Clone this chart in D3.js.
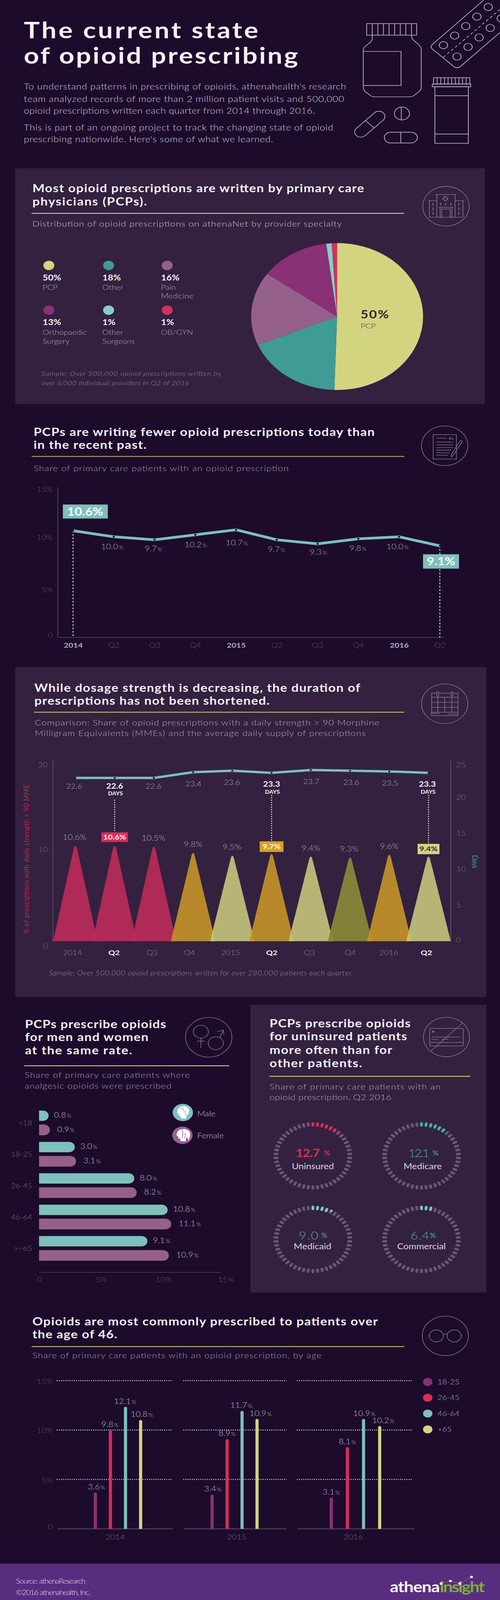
<!DOCTYPE html>
<html><head><meta charset="utf-8">
<script src="https://cdn.jsdelivr.net/npm/d3@7"></script>
<style>html,body{margin:0;padding:0;background:#1d0b2c;overflow:hidden}svg{display:block}text{font-family:Lato,sans-serif}</style>
</head><body><script>
// ---------- DATA ----------
const pieCategories=["PCP","Other","Pain Medicine","Orthopaedic Surgery","Other Surgeons","OB/GYN"];
const pieValues=[50,18,16,13,1,1];
const quarterLabels=["2014","Q2","Q3","Q4","2015","Q2","Q3","Q4","2016","Q2"];
const pcpShare=[10.6,10.0,9.7,10.2,10.7,9.7,9.3,9.8,10.0,9.1];
const highDoseShare=[10.6,10.6,10.5,9.8,9.5,9.7,9.4,9.3,9.6,9.4];
const daysSupply=[22.6,22.6,22.6,23.4,23.6,23.3,23.7,23.6,23.5,23.3];
const ageGroups=["<18","18-25","26-45","46-64",">=65"];
const maleShare=[0.8,3.0,8.0,10.8,9.1];
const femaleShare=[0.9,3.1,8.2,11.1,10.9];
const payers=["Uninsured","Medicare","Medicaid","Commercial"];
const payerShare=[12.7,12.1,9.0,6.4];
const ageYears=["2014","2015","2016"];
const ageBands=["18-25","26-45","46-64","+65"];
const age18to25=[3.6,3.4,3.1];
const age26to45=[9.8,8.9,8.1];
const age46to64=[12.1,11.7,10.9];
const age65plus=[10.8,10.9,10.2];

// ---------- STYLE ----------
const BG="#1d0b2c",PANEL="#33213f",RULE="#cfd07a",ICON="#8c7c98",WHITE="#f6f2f8";
const C={pale:"#d3d480",teal:"#3f9b93",mauve:"#96608c",plum:"#8a3074",aqua:"#85cfc8",red:"#d72f5b",line:"#7cc1bb",
 gold:"#c29328",tri:"#c2c27b",olive:"#888a36",crim:"#ba2b58",tick:"#5f5069",axis:"#54445f",lab:"#b4aabd",sub:"#a79cb2"};
// The drawing is 1280x4792; if the window is shorter, fit it to the window height so nothing is cut off.
const FULL_H=4792,fitH=Math.min(FULL_H,window.innerHeight||FULL_H);
const svg=d3.select("body").append("svg").attr("width",1280).attr("height",fitH)
 .attr("viewBox",`0 0 1280 ${FULL_H}`).attr("preserveAspectRatio","none");
svg.append("rect").attr("width",1280).attr("height",FULL_H).attr("fill",BG);

function T(g,x,y,s,o={}){
 const e=g.append("text").attr("x",x).attr("y",y).text(s)
  .attr("font-size",o.size||20).attr("fill",o.fill||WHITE).attr("font-weight",o.w||400)
  .attr("text-anchor",o.anchor||"start");
 if(o.width)e.attr("textLength",o.width).attr("lengthAdjust","spacing");
 if(o.style)e.attr("font-style",o.style);
 if(o.rotate!=null)e.attr("transform",`rotate(${o.rotate} ${x} ${y})`);
 return e;
}
function V(g,x,y,v,o={}){ // number with small percent sign
 const e=g.append("text").attr("x",x).attr("y",y).attr("font-size",o.size||20).attr("fill",o.fill||C.lab)
  .attr("text-anchor",o.anchor||"middle").attr("font-weight",o.w||400);
 e.append("tspan").text(v.toFixed(1));
 e.append("tspan").text("%").attr("font-size",(o.size||20)*0.68).attr("dx",o.gap==null?3:o.gap);
 return e;
}
function heading(g,lines,rule,sub,o={}){
 lines.forEach(l=>T(g,l[0],l[1],l[2],{size:o.size||33,w:700,width:l[3],fill:WHITE}));
 g.append("line").attr("x1",rule[0]).attr("x2",rule[1]).attr("y1",rule[2]).attr("y2",rule[2])
  .attr("stroke",o.rule||RULE).attr("stroke-width",2.5);
 sub.forEach(l=>T(g,l[0],l[1],l[2],{size:o.subSize||24,w:300,width:l[3],fill:o.subFill||C.lab}));
}
function ringIcon(root,cx,cy,r){
 const g=root.append("g").attr("fill","none").attr("stroke",ICON).attr("stroke-width",1.5);
 g.append("circle").attr("cx",cx).attr("cy",cy).attr("r",r);
 return g;
}
function styleAxis(g,size,fill){
 g.select(".domain").remove();g.selectAll(".tick line").remove();
 g.selectAll("text").attr("font-size",size).attr("fill",fill).attr("font-family","Lato,sans-serif").attr("font-weight",300);
}

// ---------- INTRO ----------
const intro=svg.append("g");
T(intro,61,115,"The current state",{size:68,w:700,width:600});
T(intro,61,191,"of opioid prescribing",{size:68,w:700,width:702});
[[268,"To understand patterns in prescribing of opioids, athenahealth's research",825],
 [305,"team analyzed records of more than 2 million patient visits and 500,000",820],
 [341,"opioid prescriptions written each quarter from 2014 through 2016.",745],
 [391,"This is part of an ongoing project to track the changing state of opioid",792],
 [426,"prescribing nationwide. Here's some of what we learned.",638]]
 .forEach(d=>T(intro,61,d[0],d[1],{size:25,w:300,width:d[2],fill:"#d6cedd"}));

const hero=svg.append("g").attr("transform","translate(880,0) scale(0.3333)").attr("fill","none").attr("stroke","#cfc5d6").attr("stroke-width",5);
hero.append("rect").attr("x",176).attr("y",212).attr("width",384).attr("height",104);
d3.range(1,9).forEach(i=>hero.append("line").attr("x1",176+i*43).attr("x2",176+i*43).attr("y1",212).attr("y2",316));
hero.append("path").attr("d","M220,316 V340 Q220,365 200,385 Q150,425 150,445 V785 Q150,805 170,828 L205,858 Q220,870 240,870 H505 Q525,870 540,858 L575,825 Q595,805 595,785 V445 Q595,425 575,400 L535,360 Q522,345 522,330 V316");
hero.append("path").attr("d","M150,462 H440 V768 H150");
hero.append("path").attr("d","M1075,0 L682,398 Q660,420 682,442 L845,598 Q870,620 895,598 L1200,292");
[[1110,63],[1023,149],[937,235],[852,320],[766,406],[1210,165],[1125,251],[1040,337],[955,422],[870,508]]
 .forEach(d=>hero.append("circle").attr("cx",d[0]).attr("cy",d[1]).attr("r",32));
hero.append("line").attr("x1",765).attr("y1",515).attr("x2",1200).attr("y2",85).attr("stroke-dasharray","24 18");
hero.append("rect").attr("x",690).attr("y",698).attr("width",278).attr("height",57);
d3.range(1,10).forEach(i=>hero.append("line").attr("x1",690+i*27.8).attr("x2",690+i*27.8).attr("y1",698).attr("y2",755));
hero.append("rect").attr("x",680).attr("y",755).attr("width",295).attr("height",25);
hero.append("rect").attr("x",700).attr("y",780).attr("width",257).attr("height",508);
hero.append("line").attr("x1",700).attr("x2",957).attr("y1",860).attr("y2",860);
hero.append("line").attr("x1",700).attr("x2",957).attr("y1",1205).attr("y2",1205);
hero.append("circle").attr("cx",447).attr("cy",1020).attr("r",58);
hero.append("line").attr("x1",442).attr("x2",442).attr("y1",962).attr("y2",1078);
hero.append("rect").attr("x",312).attr("y",1188).attr("width",253).attr("height",97).attr("rx",48);
hero.append("line").attr("x1",438).attr("x2",438).attr("y1",1188).attr("y2",1285);
const cap=hero.append("g").attr("transform","translate(200,1116) rotate(-45)");
cap.append("rect").attr("x",-145).attr("y",-47).attr("width",290).attr("height",94).attr("rx",47);
cap.append("line").attr("x1",0).attr("x2",0).attr("y1",-47).attr("y2",47);

// ---------- 1. PIE ----------
const p1=svg.append("g");
p1.append("rect").attr("x",39).attr("y",504).attr("width",1202).attr("height",706).attr("fill",PANEL);
heading(p1,[[83,576,"Most opioid prescriptions are written by primary care",849],[83,615,"physicians (PCPs).",293]],
 [81,1035,639],[[83,679,"Distribution of opioid prescriptions on athenaNet by provider specialty",792]],{subFill:"#cdc4d4"});
const pieColors=[C.pale,C.teal,C.mauve,C.plum,C.aqua,C.red];
const pieArcs=d3.pie().sort(null)(pieValues);
const arc=d3.arc().innerRadius(0).outerRadius(220);
p1.append("g").attr("transform","translate(863,948)").selectAll("path").data(pieArcs).join("path")
 .attr("d",arc).attr("fill",(d,i)=>pieColors[i]);
T(p1,923,954,"50%",{size:34,w:700,fill:"#33213f",width:72});
T(p1,923,984,"PCP",{size:21,w:400,fill:"#7d7a60"});
const legendX=[109,262,412],legendRows=[{c:795,v:840,l:868},{c:929,v:973,l:1003}];
pieCategories.forEach((cat,i)=>{
 const x=legendX[i%3],r=legendRows[Math.floor(i/3)];
 p1.append("circle").attr("cx",x+16).attr("cy",r.c).attr("r",14).attr("fill",pieColors[i]);
 T(p1,x,r.v,pieValues[i]+"%",{size:24,w:700});
 cat.split(" ").forEach((w,j)=>T(p1,x,r.l+j*26,w,{size:21,w:300,fill:"#b3a9bc"}));
});
T(p1,106,1126,"Sample: Over 500,000 opioid prescriptions written by",{size:19,w:300,style:"italic",fill:"#958a9f",width:460});
T(p1,106,1154,"over 6,000 individual providers in Q2 of 2016",{size:19,w:300,style:"italic",fill:"#958a9f",width:378});
(function(){const g=svg.append("g").attr("transform","translate(1060,540) scale(0.3333)").attr("fill","none").attr("stroke",ICON).attr("stroke-width",4.5);
 g.append("circle").attr("cx",245).attr("cy",233).attr("r",178);
 g.append("path").attr("d","M165,128 H325 M175,128 V330 M315,128 V330 M110,183 H175 M315,183 H385 M118,183 V332 H375 V183 M190,243 H300 M200,243 V342 M290,243 V342 M212,258 H278 V330 M212,258 V330");
 g.append("path").attr("d","M232,148 H248 V158 H258 V174 H248 V183 H232 V174 H222 V158 H232 Z");
 [[146,215],[146,257],[146,298],[204,215],[243,215],[282,215],[344,215],[344,257],[344,298]].forEach(d=>g.append("rect").attr("x",d[0]-3).attr("y",d[1]-12).attr("width",6).attr("height",24).attr("fill",ICON).attr("stroke","none"));
})();

// ---------- 2. LINE ----------
const p2=svg.append("g");
heading(p2,[[86,1306,"PCPs are writing fewer opioid prescriptions today than",873],[86,1344,"in the recent past.",289]],
 [81,1035,1367],[[86,1411,"Share of primary care patients with an opioid prescription",653]],{subFill:C.sub,rule:"#c4bb6c"});
const x2=d3.scalePoint().domain(d3.range(quarterLabels.length)).range([187,1126]);
const y2=d3.scaleLinear().domain([0,15]).range([1909,1457]);
const axL2=p2.append("g").attr("transform","translate(148,0)").call(d3.axisLeft(y2).tickValues([0,5,10,15]).tickFormat(d=>d?d+"%":"0").tickSize(0).tickPadding(13));
styleAxis(axL2,21,C.tick);
axL2.selectAll(".tick text").attr("dy",d=>({0:-7,5:8,10:2,15:9}[d])+7);
const yearSet=new Set(["2014","2015","2016"]);
const axB2=p2.append("g").attr("transform","translate(0,1909)").call(d3.axisBottom(x2).tickFormat(i=>quarterLabels[i]).tickSize(0).tickPadding(16));
styleAxis(axB2,21,C.tick);
axB2.selectAll(".tick text").attr("fill",i=>yearSet.has(quarterLabels[i])?C.lab:C.tick).attr("font-weight",i=>yearSet.has(quarterLabels[i])?700:300);
p2.append("line").attr("x1",148).attr("x2",148).attr("y1",1459).attr("y2",1909).attr("stroke",C.axis).attr("stroke-width",2);
p2.append("line").attr("x1",148).attr("x2",1137).attr("y1",1909).attr("y2",1909).attr("stroke",C.axis).attr("stroke-width",2);
[0,pcpShare.length-1].forEach(i=>p2.append("line").attr("x1",x2(i)).attr("x2",x2(i)).attr("y1",y2(pcpShare[i])).attr("y2",1909)
 .attr("stroke","#f2eef5").attr("stroke-width",2).attr("stroke-dasharray","5 5"));
p2.append("path").datum(pcpShare).attr("fill","none").attr("stroke",C.line).attr("stroke-width",8)
 .attr("d",d3.line().x((d,i)=>x2(i)).y(d=>y2(d)));
p2.selectAll("circle.pt").data(pcpShare).join("circle").attr("cx",(d,i)=>x2(i)).attr("cy",d=>y2(d)).attr("r",2.8).attr("fill",BG);
const lineDx=[0,-4,-3,1,2,-1,2,-1,-4,0],lineDy=[0,37,34,37,47,36,32,36,37,0];
pcpShare.forEach((v,i)=>{if(i>0&&i<pcpShare.length-1)V(p2,x2(i)+lineDx[i],y2(v)+lineDy[i],v,{size:22,fill:"#b4aabd",gap:2}).attr("font-weight",300);});
p2.append("rect").attr("x",161).attr("y",1511).attr("width",115).attr("height",42).attr("fill",C.line);
T(p2,218,1544,pcpShare[0]+"%",{size:33,w:700,anchor:"middle",fill:"#fff"});
p2.append("rect").attr("x",1083).attr("y",1660).attr("width",92).attr("height",43).attr("fill",C.line);
T(p2,1129,1693,pcpShare[9]+"%",{size:33,w:700,anchor:"middle",fill:"#fff"});
(function(){const g=svg.append("g").attr("transform","translate(1060,1260) scale(0.3333)").attr("fill","none").attr("stroke",ICON).attr("stroke-width",4.5);
 g.append("circle").attr("cx",235).attr("cy",225).attr("r",178);
 g.append("rect").attr("x",147).attr("y",125).attr("width",178).attr("height",220);
 g.append("path").attr("d","M170,157 H250 M170,192 H300 M170,217 H300 M170,242 H300 M170,265 H285 M170,288 H272 M170,310 H262");
 g.append("path").attr("d","M355,178 L372,185 L300,310 L288,325 L285,305 Z");
 g.append("text").attr("x",266).attr("y",172).attr("font-size",36).attr("fill",ICON).attr("stroke","none").text("Rx");
})();

// ---------- 3. TRIANGLES ----------
const p3=svg.append("g");
p3.append("rect").attr("x",39).attr("y",1998).attr("width",1206).attr("height",988).attr("fill",PANEL);
heading(p3,[[88,2072,"While dosage strength is decreasing, the duration of",834],[88,2111,"prescriptions has not been shortened.",602]],
 [87,1035,2133],[[89,2172,"Comparison: Share of opioid prescriptions with a daily strength ≥ 90 Morphine",882],[89,2204,"Milligram Equivalents (MMEs) and the average daily supply of prescriptions",847]],{subFill:C.lab});
const x3=d3.scalePoint().domain(d3.range(quarterLabels.length)).range([193,1097]);
const yL3=d3.scaleLinear().domain([0,20]).range([2819,2278]);
const yR3=d3.scaleLinear().domain([0,25]).range([2819,2278]);
const axL3=p3.append("g").attr("transform","translate(135,0)").call(d3.axisLeft(yL3).tickValues([0,10,20]).tickSize(0).tickPadding(13));
styleAxis(axL3,21,"#7d7088");
axL3.selectAll(".tick text").attr("dy",d=>({0:14,10:-4,20:12}[d])+7);
const axR3=p3.append("g").attr("transform","translate(1154,0)").call(d3.axisRight(yR3).tickValues([0,5,10,15,20,25]).tickSize(0).tickPadding(14));
styleAxis(axR3,21,"#7d7088");
axR3.selectAll(".tick text").attr("dy",d=>({0:-5,5:0,10:0,15:0,20:1,25:12}[d])+7);
[135.5,1154].forEach(x=>p3.append("line").attr("x1",x).attr("x2",x).attr("y1",2278).attr("y2",2819).attr("stroke","#5f5069").attr("stroke-width",2));
const triFill=[C.crim,C.crim,C.crim,C.gold,C.tri,C.gold,C.tri,C.olive,C.gold,C.tri];
const triHalf=57;
p3.selectAll("path.tri").data(highDoseShare).join("path").attr("class","tri").attr("fill",(d,i)=>triFill[i]).attr("fill-opacity",.92)
 .attr("d",(d,i)=>{const x=x3(i),t=yL3(d),b=yL3(0);return `M${x-triHalf},${b} L${x-4},${t+8} Q${x},${t-6} ${x+4},${t+8} L${x+triHalf},${b} Z`;});
p3.append("path").datum(daysSupply).attr("fill","none").attr("stroke",C.line).attr("stroke-width",7)
 .attr("d",d3.line().x((d,i)=>x3(i)).y(d=>yR3(d)));
p3.selectAll("circle.pt").data(daysSupply).join("circle").attr("cx",(d,i)=>x3(i)).attr("cy",d=>yR3(d)).attr("r",2.6).attr("fill",BG);
const keyQ=new Set([1,5,9]);
const keyFill={1:[C.red,"#fff"],5:["#d9a11d","#fff"],9:[C.pale,"#33213f"]};
const highDx=[-2,0,-1,0,-1,0,0,-2,0,0];
highDoseShare.forEach((v,i)=>{
 if(keyQ.has(i)){
  const w={1:68,5:61,9:56}[i],h={1:29,5:32,9:31}[i],cy=yL3(v)-{1:25,5:21,9:22}[i];
  p3.append("rect").attr("x",x3(i)-w/2).attr("y",cy-h/2).attr("width",w).attr("height",h).attr("fill",keyFill[i][0]);
  T(p3,x3(i),cy+7,v.toFixed(1)+"%",{size:21,w:700,anchor:"middle",fill:keyFill[i][1]});
  p3.append("line").attr("x1",x3(i)).attr("x2",x3(i)).attr("y1",i===1?2395:2381).attr("y2",cy-h/2).attr("stroke","#f2eef5").attr("stroke-width",2.5).attr("stroke-dasharray","3 4");
 } else T(p3,x3(i)+highDx[i],yL3(v)-17,v.toFixed(1)+"%",{size:22,w:300,anchor:"middle",fill:C.lab});
});
const daysDx=[-3,0,-1,1,-1,0,1,3,2,-3];
daysSupply.forEach((v,i)=>{
 const y=yR3(v)+(v<23?32:42);
 T(p3,x3(i)+daysDx[i],y,v.toFixed(1),{size:keyQ.has(i)?22:21,w:keyQ.has(i)?700:300,anchor:"middle",fill:keyQ.has(i)?WHITE:C.lab});
 if(keyQ.has(i))T(p3,x3(i)+daysDx[i]+2,y+20,"DAYS",{size:15,w:700,anchor:"middle"});
});
const axB3=p3.append("g").attr("transform","translate(0,2819)").call(d3.axisBottom(x3).tickFormat(i=>quarterLabels[i]).tickSize(0).tickPadding(27));
styleAxis(axB3,21,"#8f8499");
const x3Dx=[-8,-2,-5,-10,-5,0,-4,0,-2,-6];
axB3.selectAll(".tick text").attr("dx",i=>x3Dx[i]).attr("fill",i=>keyQ.has(i)?WHITE:"#8f8499").attr("font-weight",i=>keyQ.has(i)?700:300);
T(p3,74,2797,"% of presciptions with daily strength ≥ 90 MME",{size:20,w:400,fill:"#b32a55",rotate:-90,width:448});
T(p3,1209,2561,"Days",{size:20,w:400,fill:C.teal,rotate:90,width:40});
T(p3,125,2921,"Sample: Over 500,000 opioid prescriptions written for over 280,000 patients each quarter.",{size:20,w:300,style:"italic",fill:"#958a9f",width:779});
(function(){const g=svg.append("g").attr("transform","translate(1060,1960) scale(0.3333)").attr("fill","none").attr("stroke",ICON).attr("stroke-width",4.5);
 g.append("circle").attr("cx",235).attr("cy",443).attr("r",178);
 g.append("rect").attr("x",135).attr("y",348).attr("width",202).attr("height",202);
 g.append("path").attr("d","M135,385 H337 M135,430 H337 M135,475 H337 M135,520 H337 M182,385 V520 M236,385 V520 M290,385 V520 M140,530 H195 M255,537 H332");
 g.append("rect").attr("x",174).attr("y",335).attr("width",14).attr("height",40).attr("rx",7).attr("fill",PANEL);
 g.append("rect").attr("x",284).attr("y",335).attr("width",14).attr("height",40).attr("rx",7).attr("fill",PANEL);
})();

// ---------- 4a. GENDER BARS ----------
const p4=svg.append("g");
heading(p4,[[64,3079,"PCPs prescribe opioids",361],[64,3118,"for men and women",316],[64,3158,"at the same rate.",274]],
 [62,587,3192],[[63,3228,"Share of primary care patients where",423],[63,3260,"analgesic opioids were prescribed",376]],{subFill:C.sub});
const x4=d3.scaleLinear().domain([0,15]).range([100,557]);
const y4=d3.scaleBand().domain(ageGroups).range([3326,3326+94*5]);
const hbar=(x0,x1,y,h)=>{const r=Math.min(15,h/2);return `M${x0},${y} H${x1-r} A${r},${r} 0 0 1 ${x1},${y+r} V${y+h-r} A${r},${r} 0 0 1 ${x1-r},${y+h} H${x0} Z`;};
const barFemaleOffset=42;
p4.selectAll("path.m").data(maleShare).join("path").attr("fill",C.line).attr("d",(d,i)=>hbar(x4(0),x4(d),y4(ageGroups[i]),31));
p4.selectAll("path.f").data(femaleShare).join("path").attr("fill",C.mauve).attr("d",(d,i)=>hbar(x4(0),x4(d),y4(ageGroups[i])+barFemaleOffset,32));
maleShare.forEach((v,i)=>V(p4,x4(v)+14,y4(ageGroups[i])+21,v,{size:22,anchor:"start",gap:2}).attr("font-weight",300).attr("fill","#c3bacb"));
femaleShare.forEach((v,i)=>V(p4,x4(v)+19,y4(ageGroups[i])+barFemaleOffset+22,v,{size:22,anchor:"start",gap:2}).attr("font-weight",300).attr("fill","#c3bacb"));
const axA4=p4.append("g").attr("transform","translate(82,0)").call(d3.axisLeft(d3.scaleBand().domain(ageGroups).range([3317,3317+94*5])).tickSize(0).tickPadding(0));
styleAxis(axA4,20,"#75687f");
axA4.selectAll(".tick text").attr("dy","0.32em").attr("text-anchor","end");
const x4Axis=d3.scaleLinear().domain([0,15]).range([100,578]);
const axB4=p4.append("g").attr("transform","translate(0,3811)").call(d3.axisBottom(x4Axis).tickValues([0,5,10,15]).tickFormat(d=>d?d+"%":"0").tickSize(0).tickPadding(14));
styleAxis(axB4,21,"#5f5069");
p4.append("line").attr("x1",100).attr("x2",565).attr("y1",3811).attr("y2",3811).attr("stroke",C.axis).attr("stroke-width",1.5);
function head(cx,cy,fill,female){
 p4.append("circle").attr("cx",cx).attr("cy",cy).attr("r",26).attr("fill",fill);
 const g=p4.append("g").attr("transform",`translate(${cx},${cy})`);
 g.append("path").attr("fill","#fff").attr("d","M-14,-7 Q-10,-19 3,-19 Q16,-18 16,-5 Q16,5 9,10 L9,18 L-5,18 L-6,10 Q-11,11 -11,6 L-11,3 L-15,1 Z");
 g.append("path").attr("fill","none").attr("stroke",fill).attr("stroke-width",1.6).attr("d",female?"M-2,-19 Q4,-6 -1,8 M4,8 Q10,4 6,-6":"M-10,-12 H1 V-4 M3,-4 Q8,-6 7,1 Q4,5 7,7 H9");
 if(female)g.append("path").attr("fill","#fff").attr("d","M14,-16 Q24,-8 16,16 Q10,8 14,-16 Z");
}
head(468,3332,C.line,false);head(467,3400,C.mauve,true);
T(p4,505,3344,"Male",{size:22,w:300,fill:"#c9c0d0"});
T(p4,505,3409,"Female",{size:22,w:300,fill:"#c9c0d0"});
(function(){const g=svg.append("g").attr("transform","translate(430,3030) scale(0.3333)").attr("fill","none").attr("stroke",ICON).attr("stroke-width",4.5);
 g.append("circle").attr("cx",313).attr("cy",230).attr("r",178);
 g.append("circle").attr("cx",253).attr("cy",180).attr("r",58);
 g.append("circle").attr("cx",367).attr("cy",283).attr("r",58);
 g.append("path").attr("d","M253,238 V325 M222,265 H285 M395,235 L425,170 M378,180 L425,165 L430,208");
})();

// ---------- 4b. PAYER RINGS ----------
const p5=svg.append("g");
p5.append("rect").attr("x",641).attr("y",3009).attr("width",604).attr("height",862).attr("fill",PANEL);
heading(p5,[[690,3077,"PCPs prescribe opioids",361],[690,3116,"for uninsured patients",352],[690,3156,"more often than for",314],[690,3196,"other patients.",237]],
 [690,1204,3223.5],[[690,3263,"Share of primary care patients with an",438],[690,3295,"opioid prescription, Q2 2016",312]],{subFill:C.lab});
const ringCenters=[[801,3462],[1079,3462],[801,3712],[1079,3712]];
const ringColor=[C.red,"#3fb3a4","#7cc9c0","#7cc9c0"];
const numFill=[C.red,"#57aca5","#57aca5","#57aca5"];
const numX=[[757,829,62],[1045,1107,55],[765,822,50],[1051,1100,48]];
const nameX=[801,1082,800,1079];
const baseY=[3465,3465,3712,3712],nameY=[3501,3501,3741,3741];
const N=50,ringAngle=d3.scaleLinear().domain([0,N]).range([0,360]);
const filled=d3.scaleLinear().domain([0,100]).range([0,N]);
payers.forEach((name,k)=>{
 const [cx,cy]=ringCenters[k],share=payerShare[k],n=filled(share),g=p5.append("g").attr("transform",`translate(${cx},${cy})`);
 d3.range(N).forEach(i=>{
  const tick=g.append("g").attr("transform",`rotate(${ringAngle(i)})`);
  const full=i<Math.floor(n);
  tick.append("rect").attr("x",-3.5).attr("y",-101).attr("width",7).attr("height",13).attr("rx",3.2).attr("fill",full?ringColor[k]:"#675873");
  const frac=n-Math.floor(n);
  if(i===Math.floor(n)&&frac>0.3)tick.append("rect").attr("x",-3.5).attr("y",-101).attr("width",7).attr("height",13*frac).attr("rx",3.2).attr("fill",ringColor[k]);
 });
 T(p5,numX[k][0],baseY[k],share.toFixed(1),{size:33,w:k===0?700:300,fill:numFill[k],width:numX[k][2]});
 T(p5,numX[k][1],baseY[k]-4,"%",{size:20,w:k===0?700:400,fill:numFill[k]});
 T(p5,nameX[k],nameY[k],name,{size:24,w:400,anchor:"middle",fill:"#ded6e4"});
});
(function(){const g=ringIcon(svg,1143,3106,59);
 g.append("rect").attr("x",1100).attr("y",3080).attr("width",86).attr("height",53).attr("rx",4);
 g.append("path").attr("d","M1100,3122 H1186 M1105,3106 H1178 M1105,3113 H1122 M1130,3113 H1148");
 g.append("circle").attr("cx",1109).attr("cy",3090).attr("r",2).attr("fill",ICON);
 g.append("line").attr("x1",1102).attr("y1",3149).attr("x2",1185).attr("y2",3063);
})();

// ---------- 5. AGE BARS ----------
const p6=svg.append("g");
heading(p6,[[83,3969,"Opioids are most commonly prescribed to patients over",884],[83,4008,"the age of 46.",217]],
 [81,1035,4033],[[83,4068,"Share of primary care patients with an opioid prescription, by age",740]],{subFill:C.sub});
const bandColors=[C.plum,C.red,C.line,C.pale];
const bandSeries=[age18to25,age26to45,age46to64,age65plus];
const yGrid=d3.scaleLinear().domain([0,15]).range([4579,4135]);
const yBar=d3.scaleLinear().domain([0,15]).range([4579,4126]);
const yearSeg=[[145,442],[469,734],[760,1056]];
const yearBarX=[[244,360],[543,658],[848,972]];
const yearLabelX=[295,606,904];
const axL6=p6.append("g").attr("transform","translate(135,0)").call(d3.axisLeft(yGrid).tickValues([0,5,10,15]).tickFormat(d=>d?d+"%":"0").tickSize(0).tickPadding(0));
styleAxis(axL6,21,"#5f5069");
axL6.selectAll(".tick text").attr("dy",d=>({0:-6,5:3,10:1,15:2}[d])+7);
const labelDx=[[3,-1,-1,3],[2,0,-2,9],[0,0,2,9]];
ageYears.forEach((yr,yi)=>{
 [5,10,15].forEach(v=>p6.append("line").attr("x1",yearSeg[yi][0]).attr("x2",yearSeg[yi][1]).attr("y1",yGrid(v)).attr("y2",yGrid(v))
   .attr("stroke","#dcd6e0").attr("stroke-width",2.5).attr("stroke-dasharray","2.5 3"));
 p6.append("line").attr("x1",yearSeg[yi][0]+2).attr("x2",yearSeg[yi][1]+(yi===2?5:0)).attr("y1",4579).attr("y2",4579).attr("stroke",C.axis).attr("stroke-width",2.5);
 const xb=d3.scalePoint().domain(ageBands).range(yearBarX[yi]);
 ageBands.forEach((b,bi)=>{
  const v=bandSeries[bi][yi],x=xb(b),t=yBar(v),base=yBar(0);
  p6.append("path").attr("fill",bandColors[bi]).attr("d",`M${x-4},${base} V${t+4} A4,4 0 0 1 ${x+4},${t+4} V${base} Z`);
  V(p6,x+labelDx[yi][bi],t-9,v,{size:22,fill:"#c3bacb",gap:2}).attr("font-weight",300);
 });
 T(p6,yearLabelX[yi],4611,yr,{size:21,w:300,anchor:"middle",fill:"#75687f"});
});
ageBands.forEach((b,i)=>{
 const cy=d3.scalePoint().domain(ageBands).range([4139,4281])(b);
 p6.append("circle").attr("cx",1095).attr("cy",cy).attr("r",12).attr("fill",bandColors[i]);
 T(p6,1120,cy+7,b,{size:21,w:300,fill:"#b4aabd"});
});
(function(){const g=ringIcon(svg,1140,4001,59);
 g.append("circle").attr("cx",1117).attr("cy",4001).attr("r",18);
 g.append("circle").attr("cx",1162.5).attr("cy",4001).attr("r",18);
 g.append("path").attr("d","M1135,3998 Q1140,3992 1145,3998 M1099,4001 H1096 M1180.5,4001 H1184");
})();

// ---------- FOOTER ----------
const ft=svg.append("g");
ft.append("rect").attr("y",4683).attr("width",1280).attr("height",109).attr("fill","#582d80");
T(ft,41,4743,"Source: athenaResearch",{size:20,w:300,fill:"#e4dcec",width:178});
T(ft,41,4777,"©2016 athenahealth, Inc.",{size:20,w:300,fill:"#e4dcec",width:190});
T(ft,998,4769,"athena",{size:44,w:700,fill:"#fff",width:128});
T(ft,1126,4769,"insight",{size:44,w:700,fill:"#7cb22f",width:115});
ft.append("polyline").attr("points","1129,4743 1153,4735 1177,4743 1207,4723").attr("fill","none").attr("stroke","#b3a45e").attr("stroke-width",1.5).attr("stroke-dasharray","2 2");
[[1129,4743],[1153,4735],[1177,4743],[1207,4723]].forEach(d=>ft.append("circle").attr("cx",d[0]).attr("cy",d[1]).attr("r",3.6).attr("fill","#fff"));
</script></body></html>
